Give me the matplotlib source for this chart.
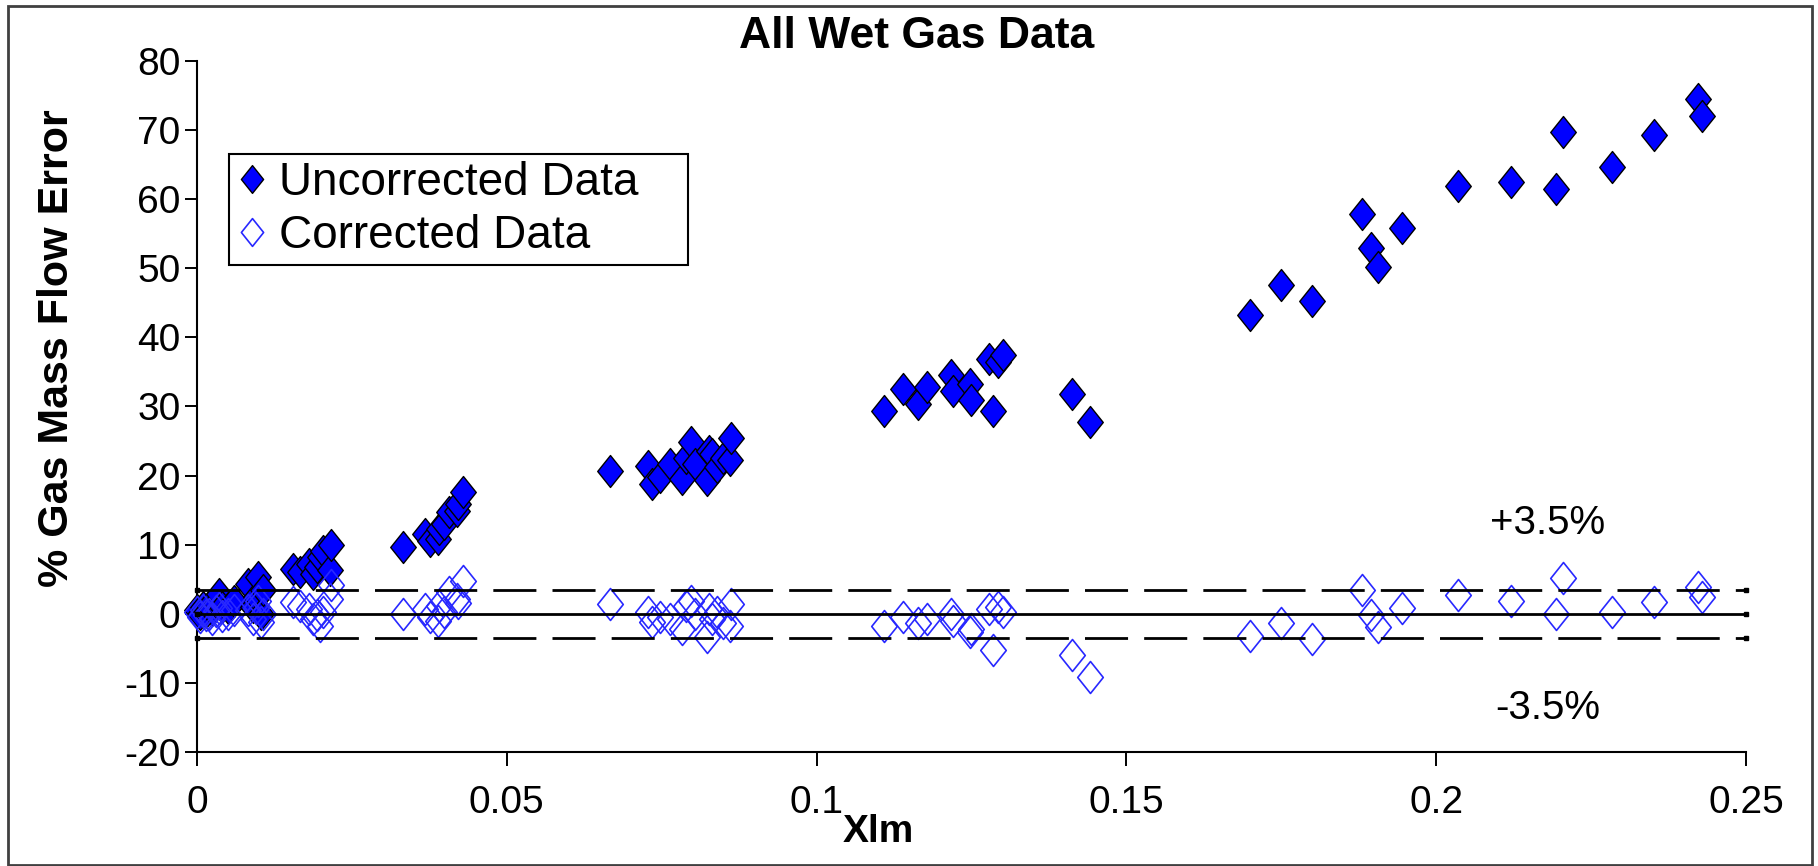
import matplotlib
matplotlib.use('Agg')
import matplotlib.pyplot as plt
from matplotlib.patches import Rectangle
from matplotlib.lines import Line2D
from matplotlib.path import Path

plt.rcParams['font.family'] = ['Liberation Sans', 'DejaVu Sans']

# ---- data ----
xlm = [
    0.0000, 0.0005, 0.0010, 0.0015, 0.0020, 0.0025, 0.0030, 0.0035, 0.0040, 0.0050, 0.0060,
    0.0083, 0.0090, 0.0095, 0.0099, 0.0103, 0.0107,
    0.0155, 0.0166, 0.0180, 0.0188, 0.0193, 0.0199, 0.0204, 0.0215, 0.0217,
    0.0333, 0.0368, 0.0376, 0.0389, 0.0390, 0.0398, 0.0406, 0.0419, 0.0421, 0.0430,
    0.0666, 0.0728, 0.0734, 0.0747, 0.0764, 0.0782, 0.0790, 0.0797, 0.0804, 0.0823,
    0.0826, 0.0831, 0.0839, 0.0849, 0.0860, 0.0862,
    0.1109, 0.1140, 0.1163, 0.1178, 0.1217, 0.1220, 0.1247, 0.1249, 0.1278, 0.1284,
    0.1293, 0.1301,
    0.1412, 0.1441,
    0.1699, 0.1750, 0.1799, 0.1881, 0.1894, 0.1906, 0.1945, 0.2035, 0.2120, 0.2193,
    0.2205, 0.2283, 0.2352, 0.2423, 0.2429,
]
uncorrected = [
    0.5, 0.0, 1.0, 0.3, 1.2, 0.5, 1.5, 2.8, 1.0, 0.8, 1.8,
    4.3, 1.0, 2.5, 5.3, 0.0, 3.5,
    6.5, 6.0, 7.2, 5.8, 6.8, 8.2, 9.1, 6.3, 9.9,
    9.6, 11.5, 10.6, 10.8, 12.3, 13.0, 14.7, 14.9, 15.9, 17.6,
    20.6, 21.4, 18.8, 19.8, 21.7, 19.5, 22.6, 24.8, 21.7, 19.3,
    23.6, 23.1, 21.2, 22.6, 22.2, 25.5,
    29.4, 32.5, 30.4, 32.8, 34.5, 32.3, 33.3, 30.9, 36.9, 29.4,
    36.4, 37.4,
    31.8, 27.7,
    43.3, 47.6, 45.3, 57.9, 53.0, 50.2, 55.9, 61.9, 62.5, 61.5,
    69.7, 64.6, 69.3, 74.5, 72.0,
]
corrected = [
    0.3, -0.5, 0.5, -0.2, 0.0, -0.8, 0.4, 0.8, -0.3, 0.0, 0.5,
    0.5, -0.8, 0.8, 1.8, -1.2, 0.0,
    1.7, 1.2, 0.7, -0.7, -0.2, -1.7, 0.2, 2.2, 4.1,
    0.0, 0.7, -0.5, -1.0, 1.2, 0.2, 3.1, 2.2, 1.5, 4.8,
    1.4, 0.2, -1.2, -0.5, -0.7, -2.2, 1.2, 1.9, 0.0, -3.4,
    0.7, -0.7, 0.2, -1.4, -1.7, 1.4,
    -1.7, -0.5, -1.3, -0.7, 0.0, -1.0, -2.7, -2.2, 0.7, -5.3,
    1.0, 0.2,
    -5.9, -9.1,
    -3.2, -1.4, -3.6, 3.5, -0.2, -1.9, 0.8, 2.7, 1.8, 0.0,
    5.2, 0.2, 1.7, 3.9, 2.4,
]
band_x = [0.0, 0.25]
band_zero = [0.0, 0.0]
band_upper = [3.5, 3.5]
band_lower = [-3.5, -3.5]
x_ticks = [0, 0.05, 0.1, 0.15, 0.2, 0.25]
x_tick_labels = ['0', '0.05', '0.1', '0.15', '0.2', '0.25']
y_ticks = [-20, -10, 0, 10, 20, 30, 40, 50, 60, 70, 80]
y_tick_labels = ['-20', '-10', '0', '10', '20', '30', '40', '50', '60', '70', '80']

# Excel-like diamond: slightly taller than wide
diamond = Path([(0, 1), (0.8, 0), (0, -1), (-0.8, 0), (0, 1)],
               [Path.MOVETO, Path.LINETO, Path.LINETO, Path.LINETO, Path.CLOSEPOLY])

# ---- figure ----
W, H = 1818, 866
fig = plt.figure(figsize=(W / 100, H / 100), dpi=100)
fig.patch.set_facecolor('white')

# outer chart border
fig.patches.append(Rectangle((8 / W, 1 / H), (1812 - 8) / W, (860 - 1) / H,
                             transform=fig.transFigure, fill=False,
                             edgecolor='#404040', linewidth=2.0))

ax = fig.add_axes([197 / W, 1 - 752 / H, (1746 - 197) / W, (752 - 61) / H])
ax.set_xlim(0, 0.25)
ax.set_ylim(-20, 80)
for s in ('top', 'right'):
    ax.spines[s].set_visible(False)
for s in ('left', 'bottom'):
    ax.spines[s].set_linewidth(1.5)
    ax.spines[s].set_color('black')

ax.set_xticks(x_ticks)
ax.set_xticklabels(x_tick_labels)
ax.set_yticks(y_ticks)
ax.set_yticklabels(y_tick_labels)
ax.tick_params(axis='both', direction='out', width=1.4,
               labelsize=28, colors='black')
ax.tick_params(axis='x', length=10, pad=14)
ax.tick_params(axis='y', length=9, pad=3)

# data series
ax.plot(xlm, uncorrected, linestyle='none', marker=diamond, markersize=23,
        markerfacecolor='#0000ff', markeredgecolor='black', markeredgewidth=1.0,
        zorder=3, label='Uncorrected Data', clip_on=False)
ax.plot(xlm, corrected, linestyle='none', marker=diamond, markersize=23,
        markerfacecolor='none', markeredgecolor='#2828ff', markeredgewidth=1.2,
        zorder=4, label='Corrected Data', clip_on=False)

# reference lines
ax.plot(band_x, band_zero, color='black', linewidth=2.0, zorder=5,
        marker='s', markersize=3, clip_on=False)
ax.plot(band_x, band_upper, color='black', linewidth=2.0, zorder=5,
        dashes=(15.5, 5.8), marker='s', markersize=3, clip_on=False)
ax.plot(band_x, band_lower, color='black', linewidth=2.0, zorder=5,
        dashes=(15.5, 5.8), marker='s', markersize=3, clip_on=False)

# texts
fig.text(917 / W, 1 - 37 / H, 'All Wet Gas Data', ha='center', va='center',
         fontsize=32, fontweight='bold')
fig.text(57 / W, 1 - 348 / H, '% Gas Mass Flow Error', ha='center', va='center',
         rotation=90, fontsize=31, fontweight='bold')
fig.text(878 / W, 1 - 832 / H, 'Xlm', ha='center', va='center',
         fontsize=28, fontweight='bold')
fig.text(1548 / W, 1 - 523 / H, '+3.5%', ha='center', va='center', fontsize=29)
fig.text(1548 / W, 1 - 708 / H, '-3.5%', ha='center', va='center', fontsize=29)

# legend
handles = [
    Line2D([], [], linestyle='none', marker=diamond, markersize=20,
           markerfacecolor='#0000ff', markeredgecolor='black', markeredgewidth=1.0),
    Line2D([], [], linestyle='none', marker=diamond, markersize=20,
           markerfacecolor='none', markeredgecolor='#2828ff', markeredgewidth=1.2),
]
lx0 = (229 - 197) / 1549
lx1 = (688 - 197) / 1549
ly1 = (752 - 154) / 691
ly0 = (752 - 264) / 691
leg = ax.legend(handles, ['Uncorrected Data', 'Corrected Data'],
                loc='upper left', bbox_to_anchor=(lx0, ly0, lx1 - lx0, ly1 - ly0),
                mode='expand', fontsize=33, frameon=True, fancybox=False, framealpha=1,
                edgecolor='black', borderpad=0.15, handlelength=0.7,
                handletextpad=0.25, labelspacing=0.2, borderaxespad=0)
leg.get_frame().set_linewidth(1.5)

fig.savefig('out.png', dpi=100, facecolor='white')
